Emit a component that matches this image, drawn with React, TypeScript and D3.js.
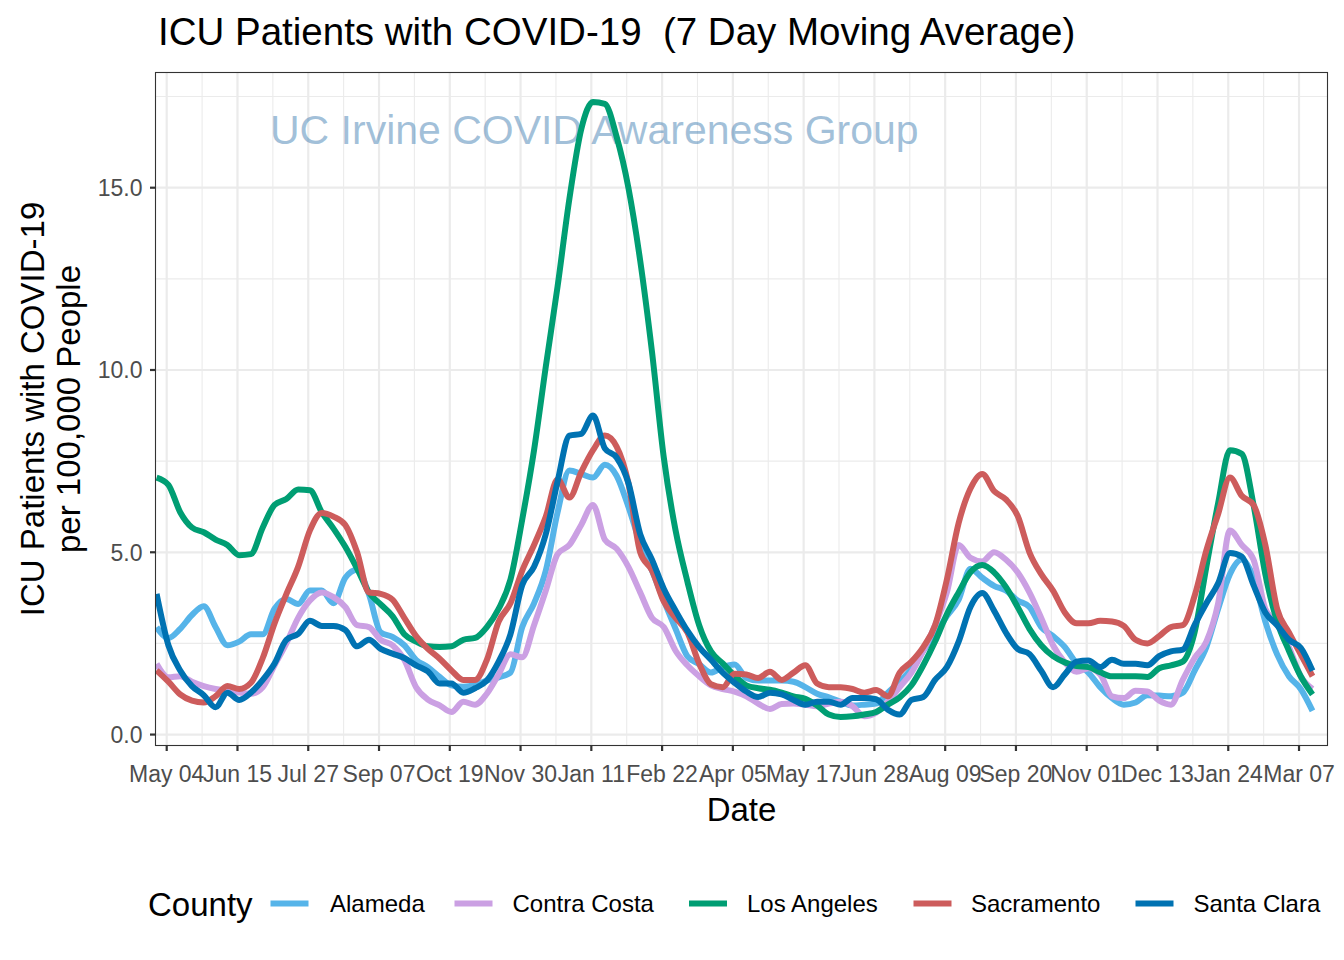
import React from "react";
import * as d3 from "d3";

// ---------- DATA (weekly samples, starting 2020-04-28) ----------
const startDate = "2020-04-28";
const counties = ["Alameda", "Contra Costa", "Los Angeles", "Sacramento", "Santa Clara"];
const colors = ["#56B4E9", "#CBA0E3", "#009E73", "#CD5C5C", "#0072B2"];

const alameda = [2.94, 2.65, 2.9, 3.28, 3.52, 2.95, 2.45, 2.55, 2.75, 2.75, 3.45, 3.72, 3.58, 3.95, 3.95, 3.6, 4.3, 4.52, 3.85, 2.8,
  2.68, 2.45, 2.05, 1.85, 1.58, 1.35, 1.31, 1.36, 1.48, 1.57, 1.7, 2.95, 3.6, 4.5, 6.1, 7.24, 7.15, 7.05, 7.4, 7.1,
  6.25, 5.25, 4.5, 3.68, 2.9, 2.15, 1.93, 1.7, 1.85, 1.92, 1.55, 1.48, 1.48, 1.48, 1.45, 1.3, 1.12, 1.02, 0.9, 0.8,
  0.82, 0.85, 1.15, 1.45, 1.8, 2.3, 2.75, 3.25, 3.7, 4.55, 4.3, 4.08, 3.95, 3.68, 3.5, 2.95, 2.7, 2.4, 1.95, 1.7,
  1.3, 1.0, 0.82, 0.88, 1.08, 1.07, 1.05, 1.15, 1.75, 2.4, 3.45, 4.4, 4.8, 4.3, 3.1, 2.2, 1.6, 1.25, 0.65];

const contraCosta = [1.94, 1.57, 1.6, 1.45, 1.33, 1.25, 1.2, 1.15, 1.12, 1.3, 1.9, 2.5, 3.2, 3.68, 3.9, 3.77, 3.5, 3.0, 2.95, 2.6,
  2.45, 2.05, 1.3, 0.96, 0.8, 0.62, 0.9, 0.82, 1.12, 1.65, 2.2, 2.12, 3.0, 3.95, 4.95, 5.2, 5.75, 6.3, 5.35, 5.1,
  4.6, 3.9, 3.2, 2.95, 2.3, 1.9, 1.6, 1.35, 1.25, 1.18, 1.05, 0.85, 0.7, 0.84, 0.85, 0.82, 0.78, 0.85, 0.9, 0.78,
  0.5, 0.6, 0.9, 1.3, 1.7, 2.3, 3.0, 3.9, 5.2, 4.85, 4.75, 5.0, 4.8, 4.45, 3.9, 3.2, 2.45, 1.98, 1.72, 1.82,
  1.65, 1.05, 1.0, 1.2, 1.18, 0.93, 0.82, 1.5, 2.1, 2.55, 3.6, 5.6, 5.2, 4.8, 3.45, 3.05, 2.4, 1.6, 1.25];

const losAngeles = [7.05, 6.85, 6.1, 5.68, 5.55, 5.35, 5.2, 4.92, 4.95, 5.68, 6.3, 6.46, 6.72, 6.7, 6.1, 5.65, 5.15, 4.55, 3.9, 3.57,
  3.25, 2.75, 2.55, 2.42, 2.4, 2.42, 2.6, 2.65, 2.95, 3.45, 4.25, 5.9, 7.8, 10.1, 12.3, 14.7, 16.6, 17.35, 17.3, 16.4,
  15.0, 13.0, 10.5, 7.6, 5.6, 4.2, 3.0, 2.28, 1.95, 1.62, 1.35, 1.27, 1.23, 1.15, 1.05, 0.98, 0.8, 0.55, 0.48, 0.5,
  0.55, 0.62, 0.82, 1.02, 1.35, 1.9, 2.55, 3.3, 3.9, 4.45, 4.65, 4.45, 4.05, 3.5, 2.9, 2.45, 2.15, 1.98, 1.88, 1.85,
  1.71, 1.6, 1.6, 1.6, 1.58, 1.82, 1.9, 2.0, 2.8, 4.6, 6.35, 7.8, 7.7, 6.3, 4.4, 3.1, 2.3, 1.6, 1.1];

const sacramento = [1.76, 1.45, 1.1, 0.93, 0.88, 1.05, 1.33, 1.25, 1.42, 2.1, 3.05, 3.85, 4.6, 5.6, 6.08, 5.98, 5.75, 5.0, 3.9, 3.86,
  3.7, 3.2, 2.7, 2.35, 2.08, 1.76, 1.5, 1.5, 2.05, 3.1, 3.6, 4.5, 5.2, 5.98, 7.0, 6.5, 7.2, 7.8, 8.2, 7.9,
  6.9, 5.0, 4.5, 3.65, 3.2, 2.8, 1.95, 1.38, 1.3, 1.67, 1.65, 1.55, 1.72, 1.5, 1.7, 1.9, 1.4, 1.3, 1.3, 1.25,
  1.15, 1.22, 1.05, 1.7, 2.0, 2.4, 3.0, 4.25, 5.8, 6.75, 7.15, 6.68, 6.45, 6.0, 5.0, 4.4, 3.95, 3.35, 3.05, 3.05,
  3.12, 3.1, 2.98, 2.6, 2.5, 2.7, 2.95, 3.0, 3.8, 5.05, 6.05, 7.05, 6.55, 6.3, 5.2, 3.45, 2.8, 2.2, 1.6];

const santaClara = [3.86, 2.45, 1.76, 1.33, 1.08, 0.75, 1.15, 0.95, 1.15, 1.5, 1.95, 2.6, 2.76, 3.12, 2.98, 2.98, 2.87, 2.42, 2.6, 2.35,
  2.22, 2.1, 1.9, 1.73, 1.4, 1.4, 1.15, 1.27, 1.48, 2.0, 2.75, 4.1, 4.6, 5.5, 6.95, 8.2, 8.25, 8.75, 7.85, 7.6,
  6.9, 5.5, 4.8, 4.0, 3.4, 2.85, 2.4, 2.05, 1.7, 1.42, 1.18, 1.03, 1.15, 1.1, 0.95, 0.82, 0.9, 0.9, 0.82, 1.0,
  1.0, 0.97, 0.68, 0.55, 0.95, 1.03, 1.5, 1.85, 2.55, 3.5, 3.88, 3.4, 2.8, 2.35, 2.21, 1.75, 1.3, 1.65, 2.0, 2.03,
  1.85, 2.05, 1.94, 1.94, 1.9, 2.15, 2.28, 2.33, 3.0, 3.6, 4.15, 4.98, 4.88, 4.1, 3.35, 3.0, 2.6, 2.38, 1.75];

const seriesValues = [alameda, contraCosta, losAngeles, sacramento, santaClara];

const xTickStart = "2020-05-04";
const xTickStepDays = 42;
const xTickCount = 17;
const yTicks = [0, 5, 10, 15];
const yMinorTicks = [2.5, 7.5, 12.5, 17.5];

const titleText = "ICU Patients with COVID-19  (7 Day Moving Average)";
const watermarkText = "UC Irvine COVID Awareness Group";
const yTitle1 = "ICU Patients with COVID-19";
const yTitle2 = "per 100,000 People";
const xTitle = "Date";
const legendTitle = "County";

// ---------- LAYOUT ----------
const W = 1344, H = 960;
const panel = { left: 155.5, right: 1327.5, top: 72.5, bottom: 745.5 };
const FONT = "'Liberation Sans', Arial, Helvetica, sans-serif";

export default function App() {
  const parse = d3.utcParse("%Y-%m-%d");
  const t0 = parse(startDate) as Date;
  const tickBase = parse(xTickStart) as Date;
  const xDomain: [Date, Date] = [
    new Date(tickBase.getTime() - 6.65 * 864e5),
    new Date(tickBase.getTime() + 688.9 * 864e5),
  ];
  const x = d3.scaleUtc().domain(xDomain).range([panel.left, panel.right]);
  const y = d3.scaleLinear().domain([-0.3, 18.16]).range([panel.bottom, panel.top]);

  const xTicks = d3.range(xTickCount).map((i) => d3.utcDay.offset(tickBase, i * xTickStepDays));
  const xMinor = d3
    .range(-1, xTickCount)
    .map((i) => d3.utcDay.offset(tickBase, i * xTickStepDays + xTickStepDays / 2))
    .filter((d) => x(d) > panel.left && x(d) < panel.right);
  const fmt = d3.utcFormat("%b %d");

  const line = d3
    .line<number>()
    .x((_, i) => x(d3.utcDay.offset(t0, i * 7)))
    .y((v) => y(v))
    .curve(d3.curveMonotoneX);

  const legendKeys = [270.5, 454.5, 689, 913.5, 1135.5];
  const legendLabels = [330, 512.5, 747, 971, 1193.5];

  return (
    <svg width={W} height={H} style={{ position: "absolute", left: 0, top: 0, background: "#fff" }} fontFamily={FONT}>
      <rect x={0} y={0} width={W} height={H} fill="#fff" />
      {/* title */}
      <text x={158} y={45} fontSize={38.5} fill="#000" style={{ whiteSpace: "pre" }}>{titleText}</text>

      {/* grid */}
      <defs>
        <clipPath id="panelClip">
          <rect x={panel.left} y={panel.top} width={panel.right - panel.left} height={panel.bottom - panel.top} />
        </clipPath>
      </defs>
      {yMinorTicks.map((v) => (
        <line key={"ym" + v} x1={panel.left} x2={panel.right} y1={y(v)} y2={y(v)} stroke="#ebebeb" strokeWidth={1.1} />
      ))}
      {xMinor.map((d, i) => (
        <line key={"xm" + i} x1={x(d)} x2={x(d)} y1={panel.top} y2={panel.bottom} stroke="#ebebeb" strokeWidth={1.1} />
      ))}
      {yTicks.map((v) => (
        <line key={"yM" + v} x1={panel.left} x2={panel.right} y1={y(v)} y2={y(v)} stroke="#ebebeb" strokeWidth={2.2} />
      ))}
      {xTicks.map((d, i) => (
        <line key={"xM" + i} x1={x(d)} x2={x(d)} y1={panel.top} y2={panel.bottom} stroke="#ebebeb" strokeWidth={2.2} />
      ))}

      {/* watermark */}
      <text x={270} y={144} fontSize={41} fill="steelblue" fillOpacity={0.5}>{watermarkText}</text>

      {/* lines */}
      <g clipPath="url(#panelClip)">
        {seriesValues.map((vals, k) => (
          <path key={counties[k]} d={line(vals) || ""} fill="none" stroke={colors[k]} strokeWidth={6}
            strokeLinejoin="round" strokeLinecap="butt" />
        ))}
      </g>

      {/* panel border */}
      <rect x={panel.left} y={panel.top} width={panel.right - panel.left} height={panel.bottom - panel.top}
        fill="none" stroke="#333333" strokeWidth={1.1} />

      {/* y axis */}
      {yTicks.map((v) => (
        <g key={"yt" + v}>
          <line x1={panel.left - 5.5} x2={panel.left} y1={y(v)} y2={y(v)} stroke="#333333" strokeWidth={2.2} />
          <text x={panel.left - 13} y={y(v)} dy="0.36em" textAnchor="end" fontSize={23} fill="#4d4d4d">
            {v.toFixed(1)}
          </text>
        </g>
      ))}
      {/* x axis */}
      {xTicks.map((d, i) => (
        <g key={"xt" + i}>
          <line x1={x(d)} x2={x(d)} y1={panel.bottom} y2={panel.bottom + 5.5} stroke="#333333" strokeWidth={2.2} />
          <text x={x(d)} y={782} textAnchor="middle" fontSize={23} fill="#4d4d4d">{fmt(d)}</text>
        </g>
      ))}

      {/* axis titles */}
      <text x={(panel.left + panel.right) / 2} y={821} textAnchor="middle" fontSize={33} fill="#000">{xTitle}</text>
      <text transform={`translate(44, ${(panel.top + panel.bottom) / 2}) rotate(-90)`} textAnchor="middle" fontSize={33} fill="#000">
        {yTitle1}
      </text>
      <text transform={`translate(80, ${(panel.top + panel.bottom) / 2}) rotate(-90)`} textAnchor="middle" fontSize={33} fill="#000">
        {yTitle2}
      </text>

      {/* legend */}
      <text x={148} y={916} fontSize={33} fill="#000">{legendTitle}</text>
      {counties.map((c, k) => (
        <g key={"lg" + c}>
          <line x1={legendKeys[k]} x2={legendKeys[k] + 38} y1={903.5} y2={903.5} stroke={colors[k]} strokeWidth={6} />
          <text x={legendLabels[k]} y={912} fontSize={24} fill="#000">{c}</text>
        </g>
      ))}
    </svg>
  );
}
